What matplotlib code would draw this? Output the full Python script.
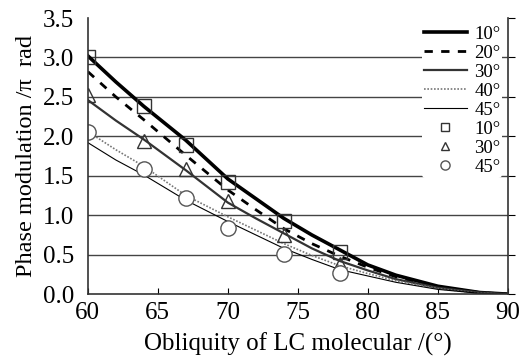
import numpy as np
import matplotlib
matplotlib.use("Agg")
import matplotlib.pyplot as plt

plt.rcParams['font.family'] = ['Liberation Serif', 'DejaVu Serif']

# obliquity angles (deg)
x_line = [60, 62, 64, 67, 70, 72, 74, 76, 78, 80, 82, 85, 88, 90]
# simulated curves, phase modulation / pi rad
y10 = [3.02, 2.69, 2.38, 1.95, 1.46, 1.21, 0.96, 0.75, 0.56, 0.37, 0.24, 0.10, 0.02, 0.0]
y20 = [2.82, 2.50, 2.21, 1.76, 1.32, 1.07, 0.83, 0.64, 0.48, 0.34, 0.22, 0.09, 0.02, 0.0]
y30 = [2.46, 2.20, 1.96, 1.57, 1.16, 0.96, 0.77, 0.58, 0.42, 0.30, 0.19, 0.08, 0.02, 0.0]
y40 = [2.06, 1.83, 1.62, 1.25, 0.98, 0.81, 0.64, 0.49, 0.36, 0.26, 0.17, 0.07, 0.01, 0.0]
y45 = [1.92, 1.70, 1.51, 1.19, 0.92, 0.75, 0.58, 0.44, 0.31, 0.23, 0.15, 0.06, 0.01, 0.0]

# measured points
x_pts = [60, 64, 67, 70, 74, 78]
m10 = [3.00, 2.38, 1.89, 1.42, 0.93, 0.54]
m30 = [2.53, 1.94, 1.58, 1.18, 0.75, 0.38]
m45 = [2.05, 1.58, 1.22, 0.84, 0.51, 0.27]

fig = plt.figure(figsize=(5.23, 3.6), dpi=100)
ax = fig.add_axes([0.168, 0.183, 0.803, 0.767])

ax.plot(x_line, y10, color='black', lw=2.6, label='10°')
ax.plot(x_line, y20, color='black', lw=2.0, ls=(0, (3, 3)), label='20°')
ax.plot(x_line, y30, color='#333333', lw=1.6, label='30°')
ax.plot(x_line, y40, color='#777777', lw=1.2, ls=(0, (1, 1)), label='40°')
ax.plot(x_line, y45, color='black', lw=0.8, label='45°')

ax.plot(x_pts, m10, ls='none', marker='s', ms=10, mfc='none', mec='#333333', mew=1.0, label='10°')
ax.plot(x_pts, m30, ls='none', marker='^', ms=10, mfc='none', mec='#333333', mew=1.0, label='30°')
ax.plot(x_pts, m45, ls='none', marker='o', ms=11, mfc='white', mec='#555555', mew=1.0, label='45°')

ax.set_xlim(60, 90)
ax.set_ylim(0, 3.5)
ax.set_xticks([60, 65, 70, 75, 80, 85, 90])
ax.set_yticks(np.arange(0, 3.51, 0.5))
ax.set_yticklabels(['%.1f' % v for v in np.arange(0, 3.51, 0.5)])
for v in np.arange(0.5, 3.01, 0.5):
    ax.axhline(v, color='#444444', lw=1.0, zorder=0)

ax.spines['top'].set_visible(False)
for s in ['left', 'bottom', 'right']:
    ax.spines[s].set_color('#333333')
    ax.spines[s].set_linewidth(1.2)
ax.tick_params(axis='x', direction='in', length=4, labelsize=18, pad=6)
ax.tick_params(axis='y', labelsize=18, pad=5, right=True, left=False, direction='out', length=5)

ax.set_xlabel('Obliquity of LC molecular /(°)', fontsize=18, labelpad=6)
ax.set_ylabel('Phase modulation /π  rad', fontsize=17.5, labelpad=4)

leg = ax.legend(loc='upper right', fontsize=13.5, frameon=True, framealpha=1, edgecolor='white',
                handlelength=2.3, labelspacing=0.1, borderpad=0.1, handletextpad=0.4,
                borderaxespad=0.3, markerscale=0.6)
leg.get_frame().set_linewidth(0)

fig.savefig('out.png', dpi=100)
